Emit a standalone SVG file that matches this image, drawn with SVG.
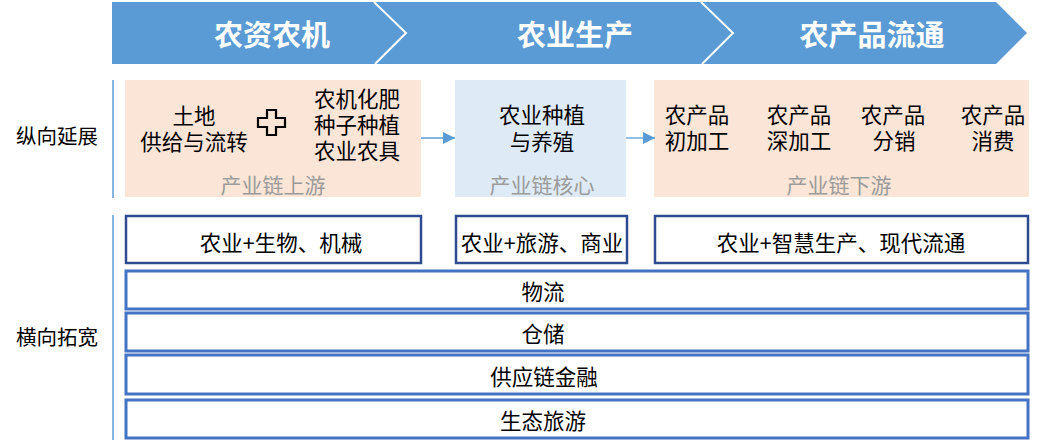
<svg xmlns="http://www.w3.org/2000/svg" width="1042" height="444" viewBox="0 0 1042 444">
<style>
text{font-family:"Noto Sans CJK SC","Noto Sans",sans-serif;dominant-baseline:central;text-anchor:middle;}
.t{font-size:21.5px;fill:#000;}
.s{font-size:20.5px;fill:#000;}
.h{font-size:29px;font-weight:bold;fill:#fff;}
.g{font-size:21px;fill:#9b9b9b;}
.dark{fill:#fff;stroke:#2F4B8F;stroke-width:2.5;}
.lite{fill:#fff;stroke:#4472C4;stroke-width:3;}
.vl{stroke:#5B9BD5;stroke-width:1.5;fill:none;}
.conn{stroke:#5B9BD5;stroke-width:1.3;fill:none;}
</style>
<defs>
<marker id="arr" viewBox="0 0 12 12" refX="12" refY="6" markerWidth="12" markerHeight="12" markerUnits="userSpaceOnUse" orient="auto">
<path d="M0,0 L12,6 L0,12 Z" fill="#5B9BD5"/>
</marker>
</defs>
<g id="banner">
<polygon points="112,2 996,2 1027,33 996,64 112,64" fill="#5B9BD5"/>
<polyline points="374,2 406,33 375,64" fill="none" stroke="#fff" stroke-width="2"/>
<polyline points="701,2 733,33 702,64" fill="none" stroke="#fff" stroke-width="2"/>
<text class="h" x="272" y="33">农资农机</text>
<text class="h" x="575" y="33">农业生产</text>
<text class="h" x="872" y="33">农产品流通</text>
</g>
<g id="labels">
<text class="s" x="57" y="135">纵向延展</text>
<text class="s" x="57" y="336">横向拓宽</text>
<line class="vl" x1="113" y1="80" x2="113" y2="198"/>
<line class="vl" x1="113" y1="215" x2="113" y2="440"/>
</g>
<g id="upstream">
<rect x="125" y="80" width="296" height="117" fill="#FBE5D6"/>
<text class="t"><tspan x="194" y="114">土地</tspan><tspan x="194" y="140">供给与流转</tspan></text>
<path d="M267,110 h9 v8 h9 v9 h-9 v8 h-9 v-8 h-9 v-9 h9 Z" fill="none" stroke="#000" stroke-width="2.2"/>
<text class="t"><tspan x="357" y="97">农机化肥</tspan><tspan x="357" y="123">种子种植</tspan><tspan x="357" y="149">农业农具</tspan></text>
<text class="g" x="273" y="184">产业链上游</text>
</g>
<g id="core">
<rect x="455" y="80" width="171" height="117" fill="#DEEBF7"/>
<text class="t"><tspan x="542" y="113">农业种植</tspan><tspan x="542" y="140">与养殖</tspan></text>
<text class="g" x="542" y="184">产业链核心</text>
</g>
<g id="downstream">
<rect x="654" y="80" width="375" height="117" fill="#FBE5D6"/>
<text class="t"><tspan x="697" y="113">农产品</tspan><tspan x="697" y="139">初加工</tspan></text>
<text class="t"><tspan x="799" y="113">农产品</tspan><tspan x="799" y="139">深加工</tspan></text>
<text class="t"><tspan x="893" y="113">农产品</tspan><tspan x="894" y="139">分销</tspan></text>
<text class="t"><tspan x="993" y="113">农产品</tspan><tspan x="993" y="139">消费</tspan></text>
<text class="g" x="839" y="184">产业链下游</text>
</g>
<g id="connectors">
<line class="conn" x1="421" y1="138" x2="455" y2="138" marker-end="url(#arr)"/>
<line class="conn" x1="626" y1="138" x2="655" y2="138" marker-end="url(#arr)"/>
</g>
<g id="bio">
<rect class="dark" x="126" y="216" width="295" height="47"/>
<text class="t" x="281" y="241">农业+生物、机械</text>
</g>
<g id="tour">
<rect class="dark" x="456" y="216" width="171" height="47"/>
<text class="t" x="542" y="241">农业+旅游、商业</text>
</g>
<g id="smart">
<rect class="dark" x="655" y="216" width="373" height="47"/>
<text class="t" x="841" y="241">农业+智慧生产、现代流通</text>
</g>
<g id="logistics">
<rect class="lite" x="126" y="271" width="902" height="38"/>
<text class="t" x="543" y="290">物流</text>
</g>
<g id="storage">
<rect class="lite" x="126" y="313" width="902" height="38"/>
<text class="t" x="543" y="332">仓储</text>
</g>
<g id="finance">
<rect class="lite" x="126" y="355" width="902" height="39"/>
<text class="t" x="544" y="375">供应链金融</text>
</g>
<g id="ecotour">
<rect class="lite" x="126" y="400" width="902" height="38"/>
<text class="t" x="543" y="419">生态旅游</text>
</g>
</svg>
